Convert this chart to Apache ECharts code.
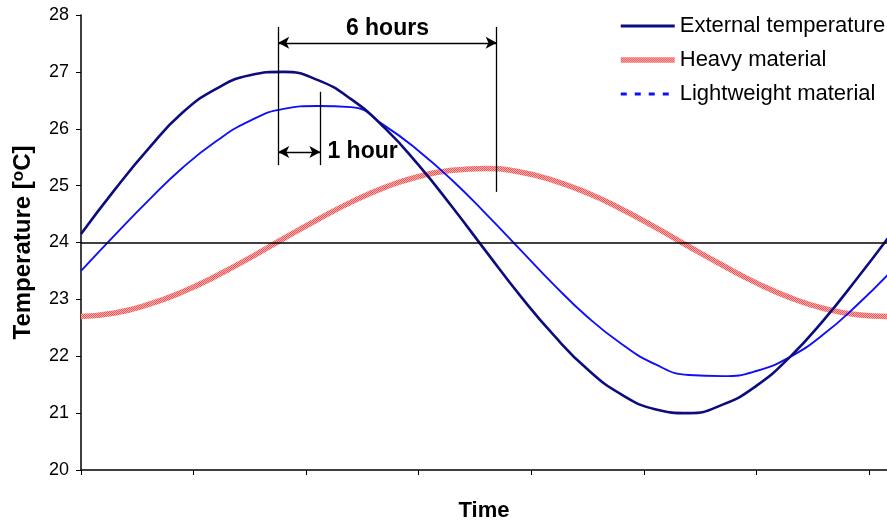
<!DOCTYPE html>
<html>
<head>
<meta charset="utf-8">
<script src="https://cdn.jsdelivr.net/npm/echarts@6/dist/echarts.min.js"></script>
<style>html,body{margin:0;padding:0;background:#fff;}#c{width:887px;height:520px;}</style>
</head>
<body>
<div id="c"></div>
<script>
const FONT = '"Liberation Sans", Arial, sans-serif';
// time in hours
const hours = [0,1,2,3,4,5,6,7,8,9,10,11,12,13,14,15,16,17,18,19,20,21,22,23,24];
const externalTemp = [24.15,24.93,25.65,26.28,26.70,26.94,27.00,26.86,26.52,26.01,25.36,24.62,23.84,23.07,22.37,21.77,21.33,21.07,21.00,21.15,21.48,21.99,22.64,23.38,24.16];
const heavyMaterial = [22.70,22.76,22.91,23.13,23.41,23.73,24.07,24.40,24.71,24.97,25.16,25.27,25.30,25.24,25.09,24.87,24.59,24.27,23.93,23.60,23.29,23.03,22.84,22.73,22.70];
const lightMaterial = [23.50,24.13,24.74,25.31,25.78,26.14,26.35,26.40,26.38,26.05,25.61,25.09,24.50,23.88,23.26,22.69,22.22,21.86,21.67,21.65,21.74,21.99,22.39,22.91,23.50];
const xTicks = [0, 10/3, 20/3, 10, 40/3, 50/3, 20, 70/3];
const yTicks = [20,21,22,23,24,25,26,27,28];
const seriesNames = ['External temperature','Heavy material','Lightweight material'];

const toPts = arr => hours.map((h,i)=>[h, arr[i]]);
const blackLine = {color:'#000', width:1.3, type:'solid'};

// textured pink/red stroke like the original
const pat = document.createElement('canvas');
pat.width = 2; pat.height = 2;
const pctx = pat.getContext('2d');
pctx.fillStyle = '#f9b0b0'; pctx.fillRect(0,0,2,2);
pctx.fillStyle = '#ee5555'; pctx.fillRect(0,0,1,1); pctx.fillRect(1,1,1,1);
const heavyColor = {image: pat, repeat: 'repeat'};

const option = {
  animation:false,
  textStyle:{fontFamily:FONT},
  grid:{left:81, right:0, top:15, bottom:50, outerBoundsMode:'none', containLabel:false},
  legend:{
    orient:'vertical', left:613, top:10, itemWidth:54, itemHeight:14, itemGap:12,
    itemStyle:{opacity:0},
    textStyle:{fontSize:22, color:'#000', fontFamily:FONT},
    data:[
      {name:seriesNames[0], lineStyle:{width:3}},
      {name:seriesNames[1], lineStyle:{width:5.5}},
      {name:seriesNames[2], lineStyle:{type:[6,8], width:3}}
    ]
  },
  xAxis:{
    type:'value', min:0, max:23.87,
    name:'Time', nameLocation:'middle', nameGap:30,
    nameTextStyle:{fontSize:22, fontWeight:'bold', color:'#000', fontFamily:FONT},
    axisLine:{lineStyle:{color:'#000', width:1.5}},
    axisTick:{show:true, length:5, customValues:xTicks, lineStyle:{color:'#000', width:1}},
    axisLabel:{show:false},
    splitLine:{show:false}
  },
  yAxis:{
    type:'value', min:20, max:28, interval:1,
    name:'Temperature [{sup|o}C]', nameLocation:'middle', nameGap:44, nameRotate:90,
    nameTextStyle:{fontSize:24, fontWeight:'bold', color:'#000', fontFamily:FONT,
      rich:{sup:{fontSize:17, fontWeight:'bold', color:'#000', fontFamily:FONT, padding:[0,0,10,0]}}},
    axisLine:{show:true, lineStyle:{color:'#000', width:1.5}},
    axisTick:{show:true, length:5, lineStyle:{color:'#000'}},
    axisLabel:{fontSize:18, color:'#000', margin:12, fontFamily:FONT,
      customValues: yTicks},
    splitLine:{show:false}
  },
  series:[
    {
      name:seriesNames[0], type:'line', data:toPts(externalTemp), smooth:0.5, symbol:'none',
      lineStyle:{color:'#0c0c7e', width:2.6}, itemStyle:{color:'#0c0c7e'}, z:4,
      markLine:{
        silent:true, symbol:'none', label:{show:false},
        lineStyle:blackLine,
        data:[
          [{coord:[0,24], lineStyle:{color:'#000',width:1.5}},{coord:[23.87,24]}],
          [{coord:[5.84,27.79]},{coord:[5.84,25.36]}],
          [{coord:[7.09,26.65]},{coord:[7.09,25.36]}],
          [{coord:[12.31,27.79]},{coord:[12.31,24.89]}],
          [{coord:[5.84,27.51], symbol:'arrow', symbolSize:[9,11],
            label:{show:true, position:'insideMiddleTop', formatter:'6 hours', fontSize:23, fontWeight:'bold', color:'#000', fontFamily:FONT, distance:3}},
           {coord:[12.31,27.51], symbol:'arrow', symbolSize:[9,11]}],
          [{coord:[5.84,25.59], symbol:'arrow', symbolSize:[9,11],
            label:{show:true, position:'end', formatter:'1 hour', fontSize:23, fontWeight:'bold', color:'#000', fontFamily:FONT, distance:7}},
           {coord:[7.09,25.59], symbol:'arrow', symbolSize:[9,11]}]
        ]
      }
    },
    {
      name:seriesNames[1], type:'line', data:toPts(heavyMaterial), smooth:0.5, symbol:'none',
      lineStyle:{color:heavyColor, width:5.5}, itemStyle:{color:'#f07c7c'}, z:2
    },
    {
      name:seriesNames[2], type:'line', data:toPts(lightMaterial), smooth:0.5, symbol:'none',
      lineStyle:{color:'#1010f8', width:1.9}, itemStyle:{color:'#1010f8'}, z:3
    }
  ]
};
const chart = echarts.init(document.getElementById('c'), null, {renderer:'canvas'});
chart.setOption(option);
</script>
</body>
</html>
